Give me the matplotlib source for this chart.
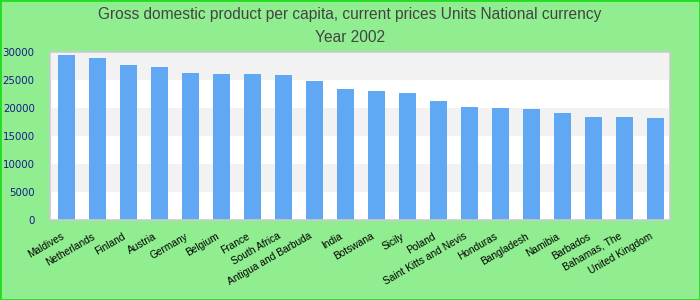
import matplotlib
matplotlib.use("Agg")
import matplotlib.pyplot as plt
from matplotlib.patches import Rectangle
from matplotlib.transforms import ScaledTranslation

countries = ["Maldives", "Netherlands", "Finland", "Austria", "Germany", "Belgium",
             "France", "South Africa", "Antigua and Barbuda", "India", "Botswana",
             "Sicily", "Poland", "Saint Kitts and Nevis", "Honduras", "Bangladesh",
             "Namibia", "Barbados", "Bahamas, The", "United Kingdom"]
values = [29400, 28850, 27600, 27250, 26200, 26000, 26000, 25850, 24750, 23350,
          23000, 22650, 21200, 20150, 19950, 19800, 19100, 18350, 18350, 18200]
yticks = [0, 5000, 10000, 15000, 20000, 25000, 30000]
title = "Gross domestic product per capita, current prices Units National currency\nYear 2002"

bg = "#90ee90"
fig = plt.figure(figsize=(7, 3), dpi=100, facecolor=bg)
ax = fig.add_axes([50/700, 80/300, 620/700, 168.3/300])
ax.set_facecolor("white")

# alternating bands
for i in range(len(yticks) - 1):
    if i % 2 == 1:
        ax.axhspan(yticks[i], yticks[i+1], color="#f2f2f2", zorder=0, lw=0)

x = list(range(len(countries)))
ax.bar(x, values, width=0.55, color="#60a8f4", zorder=2)
ax.set_xlim(-0.53, 19.47)
ax.set_ylim(0, 30000)
ax.set_yticks(yticks)
ax.set_yticklabels([str(v) for v in yticks], color="#1a1a8c", fontsize=7.4,
                   family="DejaVu Sans")
ax.tick_params(axis="y", length=0, pad=11)
ax.tick_params(axis="x", length=0, pad=8)
ax.set_xticks(x)
ax.set_xticklabels(countries, rotation=30, ha="right", rotation_mode="anchor",
                   fontsize=7.3, family="Liberation Sans", color="black")
offset = ScaledTranslation(-6/100, 0, fig.dpi_scale_trans)
for lbl in ax.get_xticklabels():
    lbl.set_transform(lbl.get_transform() + offset)
for s in ax.spines.values():
    s.set_color("#cccccc")
    s.set_linewidth(1.2)

fig.text(0.5, 0.975, title, ha="center", va="top", fontsize=11.2,
         family="Liberation Sans", color="#444444", linespacing=1.6)

fig.patches.append(Rectangle((0, 0), 1, 1, transform=fig.transFigure,
                             fill=False, edgecolor="#22dd22", linewidth=2))

fig.savefig("out.png", dpi=100, facecolor=bg)
